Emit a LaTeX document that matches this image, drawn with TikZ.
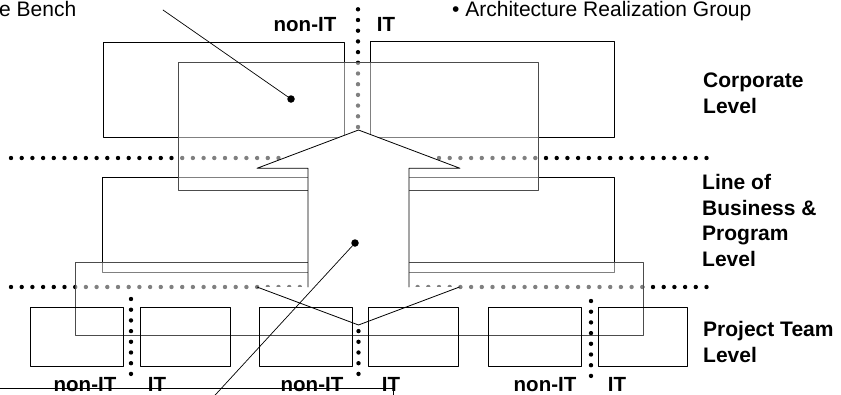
\documentclass[tikz,border=0pt]{standalone}
\usepackage{fontspec}
\setmainfont{Liberation Sans}
\usepackage{tikz}
\usetikzlibrary{arrows.meta}
\usetikzlibrary{positioning}

\tikzset{
  box/.style={draw=black,line width=0.8pt},
  veil/.style={draw=black!70,line width=0.8pt,fill=white,fill opacity=0.5},
  dotline/.style={line width=4.4pt,line cap=round,dash pattern=on 0pt off 10.7pt},
  leaddot/.style={circle,fill=black,inner sep=0pt,minimum size=7.5pt},
  lvl/.style={font=\fontsize{21}{25.5}\selectfont\bfseries,align=left,anchor=base west,inner sep=0pt},
  side/.style={font=\fontsize{20.5}{24}\selectfont\bfseries,anchor=base,inner sep=0pt},
  note/.style={font=\fontsize{21}{25}\selectfont,anchor=base west,inner sep=0pt}
}

\begin{document}
\begin{tikzpicture}[line cap=round,line join=round,x=1pt,y=-1pt]
\useasboundingbox (0,0) rectangle (841,394);
\clip (0,0) rectangle (841,394);
% corporate level
\draw [box] (103,42) rectangle (344,137);
\draw [box] (370,41) rectangle (614,137);
% line of business level
\draw [box] (102,177) rectangle (308,272);
\draw [box] (408,177) rectangle (614,272);
% level separators
\draw [dotline] (358,9.3) -- (358,128);
\draw [dotline] (11,158) -- (717,158);
\draw [dotline] (11,287) -- (717,287);
% see-through bands
\draw [veil] (178,62) rectangle (538,190);
\draw [veil] (75,262) rectangle (643,335);
% team separators
\draw [dotline] (131,299) -- (131,374);
\draw [dotline] (358.5,299) -- (358.5,374);
\draw [dotline] (591,301) -- (591,378);
% big arrow
\fill [white] (358.5,130) -- (460,168.3) -- (409,168.3) -- (409,287) -- (459.5,287) -- (358.5,325) -- (257,287) -- (308,287) -- (308,168.3) -- (257,168.3) -- cycle;
\draw [line width=0.8pt] (308,287) -- (308,168.3) -- (257,168.3) -- (358.5,130) -- (460,168.3) -- (409,168.3) -- (409,287);
\draw [line width=0.8pt] (257,287) -- (358.5,325) -- (459.5,287);
% project teams
\draw [box] (30,307) rectangle (123,366);
\draw [box] (140,307) rectangle (230,366);
\draw [box] (259,307) rectangle (352,366);
\draw [box] (368,307) rectangle (458,366);
\draw [box] (488,307) rectangle (581,366);
\draw [box] (598,307) rectangle (687,366);
% callouts
\node [note] (bench) at (-1,16) {e Bench};
\node [note] (arg) at (452,16) {\textbullet\ Architecture Realization Group};
\node [leaddot] (dotCorp) at (291,99) {};
\coordinate (benchEnd) at (163,10);
\draw [line width=0.7pt] (benchEnd) -- (dotCorp);
\node [leaddot] (dotArrow) at (355,243) {};
\coordinate (arrowEnd) at (211.5,399);
\draw [line width=0.7pt] (arrowEnd) -- (dotArrow);
\coordinate (rulerL) at (0,388);
\coordinate (rulerR) at (393.5,388);
\coordinate (rulerT) at (393.5,396);
\draw [line width=0.7pt] (rulerL) -- (rulerR) -- (rulerT);
% level names (base = last line)
\node [lvl] (corp) at (703,113) {Corporate\\Level};
\node [lvl] (lob) at (702,266) {Line of\\Business \&\\Program\\Level};
\node [lvl] (team) at (703,362) {Project Team\\Level};
% non-IT / IT
\node [side] (nonitTop) at (305,31) {non-IT};
\node [side] (itTop) at (386,31) {IT};
\node [side] (nonitA) at (85,391) {non-IT};
\node [side] (itA) at (157,391) {IT};
\node [side] (nonitB) at (312,391) {non-IT};
\node [side] (itB) at (391,391) {IT};
\node [side] (nonitC) at (545,391) {non-IT};
\node [side] (itC) at (617,391) {IT};
\end{tikzpicture}
\end{document}
